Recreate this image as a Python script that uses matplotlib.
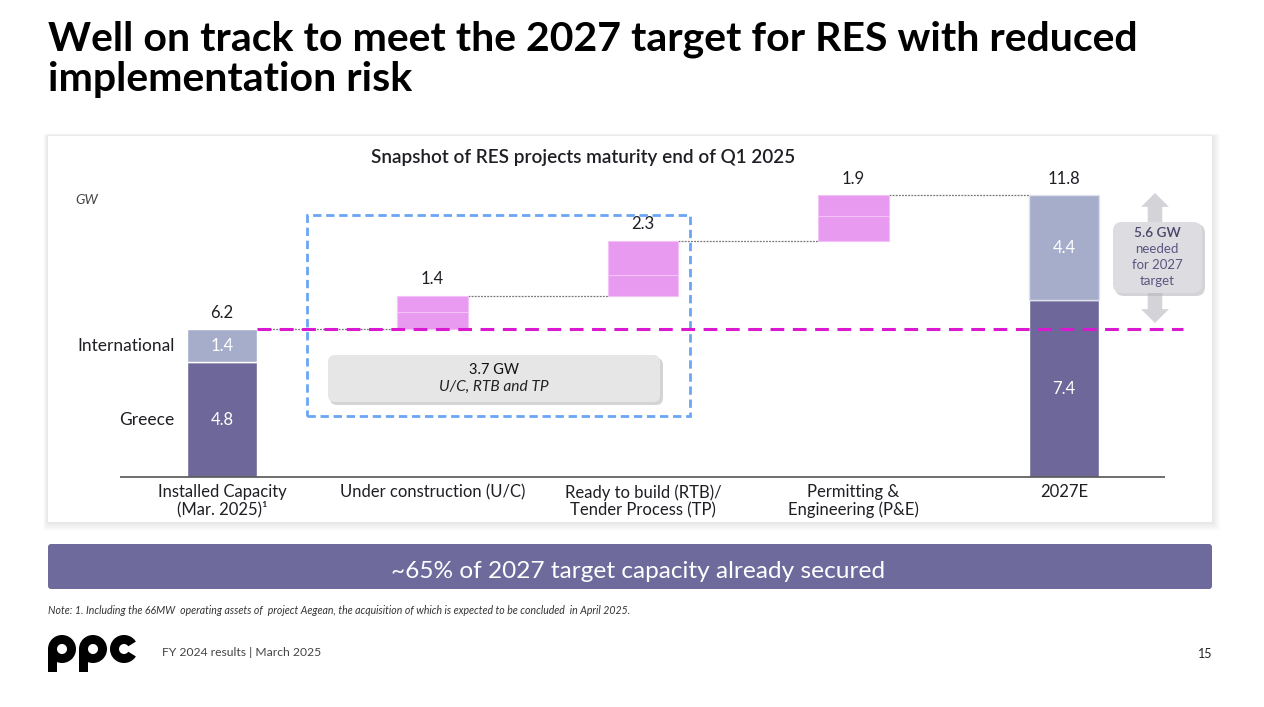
import matplotlib
matplotlib.use("Agg")
import matplotlib.pyplot as plt
from matplotlib.patches import FancyBboxPatch, FancyArrowPatch, Rectangle, Wedge
from matplotlib.transforms import IdentityTransform

# ---------------- data ----------------
categories = ["Installed Capacity\n(Mar. 2025)\u00b9", "Under construction (U/C)",
              "Ready to build (RTB)/\nTender Process (TP)", "Permitting &\nEngineering (P&E)", "2027E"]
installed_greece = 4.8
installed_intl = 1.4
pipeline_totals = [1.4, 2.3, 1.9]          # U/C, RTB/TP, P&E
pipeline_greece = [0.7, 0.85, 1.05]        # lower (faint) part of pink bars
pipeline_intl = [0.7, 1.45, 0.85]          # upper part of pink bars
target_greece = 7.4
target_intl = 4.4
target_total = 11.8
needed_gw = 5.6
secured_gw = 3.7

# ---------------- style ----------------
W, H = 1264, 707
FONT = "Lato"
C_GREECE = "#6d6899"
C_INTL = "#a6adcb"
C_PINK = "#e899f0"
C_MAG = "#d918cf"
C_BLUE = "#6aa6f6"
C_TXT = "#1e1e24"

plt.rcParams["font.family"] = [FONT, "DejaVu Sans"]

fig = plt.figure(figsize=(W / 100, H / 100), dpi=100)
fig.patch.set_facecolor("white")
renderer = fig.canvas.get_renderer()


def fx(x):
    return x / W


def fy(y):
    return 1 - y / H


def px_box(x0, y0, x1, y1, color, rounding=0, z=1, ec="none", lw=0, alpha=1.0):
    p = FancyBboxPatch((x0, H - y1), x1 - x0, y1 - y0,
                       boxstyle=f"round,pad=0,rounding_size={rounding}" if rounding else "square,pad=0",
                       transform=IdentityTransform(), facecolor=color, edgecolor=ec,
                       linewidth=lw, zorder=z, alpha=alpha)
    fig.add_artist(p)
    return p


def fit_width(t, target_px):
    w = t.get_window_extent(renderer).width
    t.set_fontsize(t.get_fontsize() * target_px / w)


# ---------------- card with soft shadow ----------------
for i in range(8, 0, -1):
    px_box(48 - i * 0.6, 136 - i * 0.3, 1212 + i, 522 + i * 1.1, "black", rounding=2, z=-20, alpha=0.012)
px_box(48, 136, 1212, 522, "white", z=-10)

# ---------------- axes in the card ----------------
ax = fig.add_axes([fx(48), fy(522), fx(1212) - fx(48), fy(136) - fy(522)])
ax.set_facecolor("none")
ax.axis("off")
x0px, step = 222.0, 210.5
scale = 23.87  # px per GW
ax.set_xlim((48 - x0px) / step, (1212 - x0px) / step)
ax.set_ylim(-(522 - 477) / scale, (477 - 136) / scale)

xs = list(range(len(categories)))
bw = 0.333

# baseline
ax.hlines(0, (120 - x0px) / step, (1165 - x0px) / step, color="#555555", lw=1.2, zorder=3)

# installed capacity
ax.bar(xs[0], installed_greece, width=bw, color=C_GREECE, edgecolor="white", lw=1, zorder=2)
ax.bar(xs[0], installed_intl, bottom=installed_greece, width=bw, color=C_INTL, edgecolor="white", lw=1, zorder=2)
installed_total = installed_greece + installed_intl

# waterfall pink
cum = installed_total
levels = [installed_total]
for i, (tot, g, it) in enumerate(zip(pipeline_totals, pipeline_greece, pipeline_intl)):
    xi = xs[i + 1]
    ax.bar(xi, g, bottom=cum, width=bw, color=C_PINK, edgecolor="#f3c2f6", lw=0.8, zorder=2)
    ax.bar(xi, it, bottom=cum + g, width=bw, color=C_PINK, edgecolor="#f3c2f6", lw=0.8, zorder=2)
    cum += tot
    levels.append(cum)
    ax.text(xi, cum + 0.35, f"{tot:.1f}", ha="center", va="bottom", fontsize=12, color=C_TXT)

# 2027E
ax.bar(xs[4], target_greece, width=bw, color=C_GREECE, edgecolor="white", lw=1, zorder=2)
ax.bar(xs[4], target_intl, bottom=target_greece, width=bw, color=C_INTL, edgecolor="#dfe2ee", lw=1, zorder=2)

# connectors
for i, lv in enumerate(levels):
    ax.hlines(lv, xs[i] + bw / 2, xs[i + 1] - bw / 2, color="#777777", lw=0.9,
              linestyles=(0, (1.5, 1)), zorder=1)

# magenta dashed line at installed level
ax.hlines(installed_total, xs[0] + bw / 2, (1183 - x0px) / step, color=C_MAG, lw=2.2,
          linestyles=(0, (4.5, 2.8)), zorder=4)

# totals labels
ax.text(xs[0], installed_total + 0.35, f"{installed_total:.1f}", ha="center", va="bottom", fontsize=12, color=C_TXT)
ax.text(xs[4], target_total + 0.35, f"{target_total:.1f}", ha="center", va="bottom", fontsize=12, color=C_TXT)

# segment labels
ax.text(xs[0], installed_greece / 2, f"{installed_greece:.1f}", ha="center", va="center", fontsize=12, color="white", zorder=5)
ax.text(xs[0], installed_greece + installed_intl / 2, f"{installed_intl:.1f}", ha="center", va="center", fontsize=12, color="white", zorder=5)
ax.text(xs[4], target_greece / 2, f"{target_greece:.1f}", ha="center", va="center", fontsize=12, color="white", zorder=5)
ax.text(xs[4], target_greece + target_intl / 2, f"{target_intl:.1f}", ha="center", va="center", fontsize=12, color="white", zorder=5)

# legend-like labels to the left
ax.annotate("International", (xs[0] - bw / 2, installed_greece + installed_intl / 2), xytext=(-9, 0),
            textcoords="offset points", ha="right", va="center", fontsize=12.5, color=C_TXT)
ax.annotate("Greece", (xs[0] - bw / 2, installed_greece / 2), xytext=(-9, 0),
            textcoords="offset points", ha="right", va="center", fontsize=12.5, color=C_TXT)

# category labels
for xi, lab in zip(xs, categories):
    ax.annotate(lab, (xi, 0), xytext=(0, -5), textcoords="offset points", ha="center", va="top",
                fontsize=12, color=C_TXT, linespacing=1.1)

# blue dashed box around U/C, RTB, TP
bx0, bx1 = (307 - x0px) / step, (690 - x0px) / step
by0, by1 = (477 - 416) / scale, (477 - 215) / scale
ax.add_patch(Rectangle((bx0, by0), bx1 - bx0, by1 - by0, fill=False, edgecolor=C_BLUE, lw=2,
                       linestyle=(0, (3, 1.7)), zorder=3))

# vertical double arrow (gap to target)
arr_x = (1155 - x0px) / step
mid = installed_total + needed_gw / 2
for tip in (target_total + 0.1, installed_total + 0.25):
    ax.add_patch(FancyArrowPatch((arr_x, mid), (arr_x, tip),
                                 arrowstyle="simple,head_width=2.0,head_length=1.0,tail_width=1.05",
                                 mutation_scale=10, color="#d3d3d8", lw=0, shrinkA=0, shrinkB=0, zorder=1))

# ---------------- rounded text boxes ----------------
px_box(330, 358, 663, 405, "#b8b8b8", rounding=7, z=1, alpha=0.6)
px_box(328, 355, 660, 402, "#e6e6e6", rounding=7, z=1.1)
fig.text(fx(494), fy(370), f"{secured_gw:.1f} GW", ha="center", va="center", fontsize=10.5, color="#111111")
fig.text(fx(494), fy(387), "U/C, RTB and TP", ha="center", va="center", fontsize=11.2, style="italic", color="#222222")

px_box(1115, 224, 1205, 296, "#b8b8bc", rounding=9, z=1, alpha=0.6)
px_box(1113, 222, 1202, 293, "#dcdce1", rounding=9, z=1.1)
fig.text(fx(1157), fy(233), f"{needed_gw:.1f} GW", ha="center", va="center", fontsize=9.8, color="#4a4569", fontweight="semibold")
for t, y in (("needed", 249), ("for 2027", 265), ("target", 281)):
    fig.text(fx(1157), fy(y), t, ha="center", va="center", fontsize=9.5, color="#5b5680")

# ---------------- titles and page text ----------------
t1 = fig.text(fx(48), fy(50), "Well on track to meet the 2027 target for RES with reduced",
              ha="left", va="baseline", fontsize=28, fontweight="bold", color="black")
fit_width(t1, 1089)
fig.text(fx(48), fy(91), "implementation risk", ha="left", va="baseline",
         fontsize=t1.get_fontsize(), fontweight="bold", color="black")

fig.text(fx(583), fy(158), "Snapshot of RES projects maturity end of Q1 2025", ha="center", va="center",
         fontsize=13.6, fontweight="semibold", color=C_TXT)
fig.text(fx(75), fy(200), "GW", ha="left", va="center", fontsize=10, style="italic", color="#444444")

# banner
px_box(48, 544, 1212, 589, "#6e6a9c", rounding=3, z=1)
fig.text(fx(638), fy(571), "~65% of 2027 target capacity already secured", ha="center", va="center",
         fontsize=17.6, color="white")

fig.text(fx(48), fy(611), "Note: 1. Including the 66MW  operating assets of  project Aegean, the acquisition of which is expected to be concluded  in April 2025.",
         ha="left", va="center", fontsize=7.6, style="italic", color="#333333")

# ppc logo (drawn shapes)
ring_r, ring_w, cy = 14, 9, 649
for cx in (62, 93):
    fig.add_artist(Wedge((cx, H - cy), ring_r, 0, 360, width=ring_w, transform=IdentityTransform(),
                         facecolor="black", edgecolor="none", zorder=2))
    fig.add_artist(Rectangle((cx - ring_r, H - 672), ring_w, 672 - cy, transform=IdentityTransform(),
                             facecolor="black", edgecolor="none", zorder=2))
fig.add_artist(Wedge((124, H - cy), ring_r, 32, 328, width=ring_w, transform=IdentityTransform(),
                     facecolor="black", edgecolor="none", zorder=2))

fig.text(fx(162), fy(652), "FY 2024 results | March 2025", ha="left", va="center", fontsize=8.7, color="#444444")
fig.text(fx(1212), fy(654), "15", ha="right", va="center", fontsize=9, color="#222222")

fig.savefig("out.png", dpi=100)
